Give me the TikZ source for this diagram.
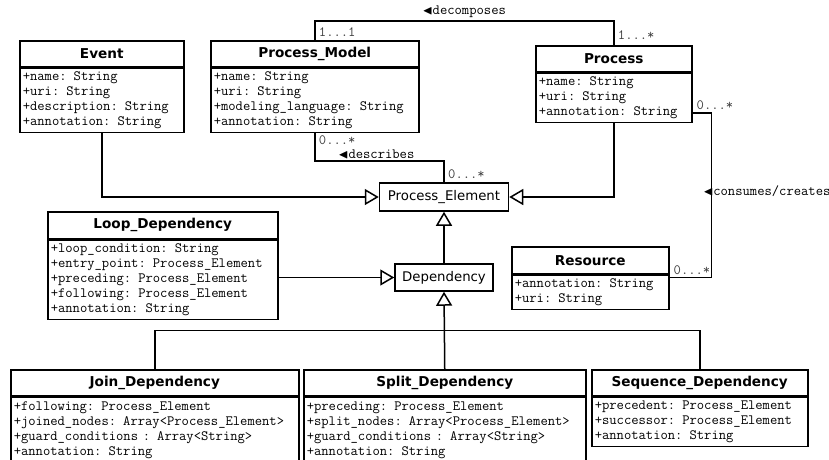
\documentclass[tikz,border=0pt]{standalone}
\usepackage{amssymb}
\usepackage{fontspec}
\setmainfont{DejaVu Sans}
\usetikzlibrary{positioning, arrows.meta, calc}

\newcommand{\clsfont}{\fontsize{13.6}{16}\selectfont\bfseries}
\newcommand{\attfont}{\fontsize{14.2}{15}\selectfont\ttfamily}
\newcommand{\elfont}{\fontsize{13.3}{16}\selectfont}
\newcommand{\ldir}{{\fontsize{13}{13}\selectfont$\blacktriangleleft$}}

\tikzset{
  cls/.style={draw, line width=1.5pt, minimum height=26pt, inner sep=0pt, font=\clsfont, anchor=north west},
  att/.style={draw, line width=1.5pt, align=left, inner xsep=3pt, inner ysep=2pt, font=\attfont},
  elem/.style={draw, line width=1.5pt, inner sep=0pt, minimum height=28pt, font=\elfont},
  gen/.style={line width=1.5pt, -{Triangle[open, length=14pt, width=16pt]}},
  assoc/.style={line width=1.5pt},
  lbl/.style={font=\attfont, inner sep=0pt},
  mult/.style={font=\attfont, text=black!75, inner sep=0pt},
}

\begin{document}
\begin{tikzpicture}[x=1pt, y=-1pt]
    \useasboundingbox (0,0) rectangle (829,459);

    % classes
    \node[cls, minimum width=164pt](ev) at (19,40){Event};
    \node[att, text width=158pt, minimum height=64pt](ev-a)[below = 0pt of ev]{+name: String\\+uri: String\\+description: String\\+annotation: String};

    \node[cls, minimum width=208pt](pm) at (210,40){Process\_Model};
    \node[att, text width=202pt, minimum height=64pt](pm-a)[below = 0pt of pm]{+name: String\\+uri: String\\+modeling\_language: String\\+annotation: String};

    \node[cls, minimum width=156pt](pr) at (535,45){Process};
    \node[att, text width=150pt, minimum height=49pt](pr-a)[below = 0pt of pr]{+name: String\\+uri: String\\+annotation: String};

    \node[elem, minimum width=129pt](pe) at (444,197){Process\_Element};
    \node[elem, minimum width=98pt, minimum height=27pt](dep) at (444,277.5){Dependency};

    \node[cls, minimum width=230pt, minimum height=27pt](lp) at (47,211){Loop\_Dependency};
    \node[att, text width=224pt, minimum height=79pt](lp-a)[below = 0pt of lp]{+loop\_condition: String\\+entry\_point: Process\_Element\\+preceding: Process\_Element\\+following: Process\_Element\\+annotation: String};

    \node[cls, minimum width=157pt, minimum height=27pt](res) at (511,246){Resource};
    \node[att, text width=151pt, minimum height=34pt](res-a)[below = 0pt of res]{+annotation: String\\+uri: String};

    \node[cls, minimum width=288pt](jn) at (10,369){Join\_Dependency};
    \node[att, text width=282pt, minimum height=66pt](jn-a)[below = 0pt of jn]{+following: Process\_Element\\+joined\_nodes: Array\textless Process\_Element\textgreater\\+guard\_conditions : Array\textless String\textgreater\\+annotation: String};

    \node[cls, minimum width=282pt](sp) at (303,369){Split\_Dependency};
    \node[att, text width=276pt, minimum height=66pt](sp-a)[below = 0pt of sp]{+preceding: Process\_Element\\+split\_nodes: Array\textless Process\_Element\textgreater\\+guard\_conditions : Array\textless String\textgreater\\+annotation: String};

    \node[cls, minimum width=216pt](sq) at (591,369){Sequence\_Dependency};
    \node[att, text width=210pt, minimum height=49pt](sq-a)[below = 0pt of sq]{+precedent: Process\_Element\\+successor: Process\_Element\\+annotation: String};

    % generalisations
    \draw[gen] (ev-a.south) |- (pe.west);
    \draw[gen] (pr-a.south) |- (pe.east);
    \draw[gen] (dep.north) -- (pe.south);
    \draw[gen] (lp-a.east |- dep.west) -- (dep.west);
    \draw[gen] (sp.north) -- (dep.south);
    \draw[assoc] (jn.north) |- ($(dep.south)!0.5!(sp.north)$) -| (sq.north);

    % associations
    \draw[assoc] (pm.north) -- ++(0,-19) -| (pr.north)
        node[lbl, pos=0.25, above=3pt](dc-l){\ldir decomposes};
    \node[mult, anchor=south west](m1) at ([xshift=4pt, yshift=3pt]pm.north){1...1};
    \node[mult, anchor=south west](m2) at ([xshift=4pt, yshift=5pt]pr.north){1...*};

    \draw[assoc] (pm-a.south) -- ++(0,28) -| (pe.north)
        node[lbl, pos=0.25, above=1pt, xshift=-3pt](ds-l){\ldir describes};
    \node[mult, anchor=north west](m3) at ([xshift=4pt, yshift=-2pt]pm-a.south){0...*};
    \node[mult, anchor=south west](m4) at ([xshift=4pt, yshift=3pt]pe.north){0...*};

    \coordinate (cs) at ([yshift=10pt]pr-a.south east);
    \coordinate (ce) at ([yshift=-3pt]res-a.north east);
    \draw[assoc] (cs) -- ++(19,0) |- (ce)
        node[lbl, pos=0.25, anchor=west, xshift=-9pt, yshift=4pt](cc-l){\ldir consumes/creates};
    \node[mult, anchor=south west](m5) at ([xshift=4pt, yshift=3pt]cs){0...*};
    \node[mult, anchor=south west](m6) at ([xshift=4pt, yshift=3pt]ce){0...*};
\end{tikzpicture}
\end{document}
